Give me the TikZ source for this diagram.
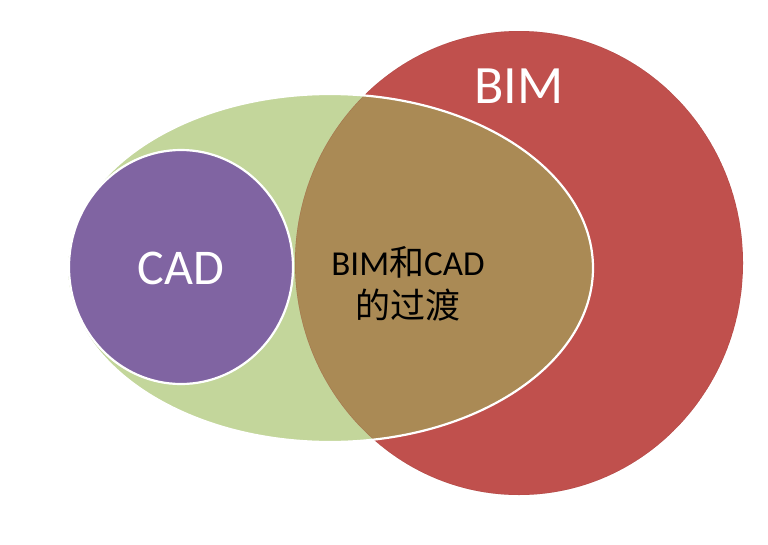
\documentclass[tikz,border=0pt]{standalone}
\usepackage{fontspec}
\setmainfont{Carlito}
\newfontfamily\cjk{Noto Sans CJK SC}
\usepackage{xcolor}
\usepackage{tikz}
\usetikzlibrary{positioning}

\definecolor{bimred}{HTML}{C0504D}
\definecolor{cadpurple}{HTML}{8064A2}
\definecolor{transgreen}{HTML}{C3D69B}
\definecolor{mixbrown}{HTML}{AA8A55}

\begin{document}
\begin{tikzpicture}[x=1pt, y=-1pt,
  label/.style={inner sep=0pt, align=center},
  rim/.style={draw=white, line width=2.2pt}]
\useasboundingbox (0,0) rectangle (768,544);
\coordinate (BIMc) at (519,263);
\coordinate (TRc) at (330,268);
\coordinate (CADc) at (181,267);
% BIM circle
\fill[bimred] (BIMc) ellipse [x radius=224, y radius=232];
% transition ellipse
\fill[transgreen] (TRc) ellipse [x radius=263, y radius=174];
\begin{scope}
\clip (BIMc) ellipse [x radius=224, y radius=232];
\fill[mixbrown] (TRc) ellipse [x radius=263, y radius=174];
\draw[bimred!80!black, opacity=0.4, line width=0.6pt] (BIMc) ellipse [x radius=224, y radius=232];
\end{scope}
\draw[rim] (TRc) ellipse [x radius=263, y radius=174];
% CAD circle
\fill[cadpurple, rim] (CADc) ellipse [x radius=112, y radius=117];
% labels
\node[label, text=white, font=\fontsize{54}{60}\selectfont] (BIM) at (519,86) {BIM};
\node[label, text=white, font=\fontsize{50}{56}\selectfont] (CAD) at (181,268) {CAD};
\node[label, text=black, font=\fontsize{35}{43}\selectfont] (TR) at (408,284)
  {BIM{\cjk 和}CAD\\{\cjk 的过渡}};
\end{tikzpicture}
\end{document}
